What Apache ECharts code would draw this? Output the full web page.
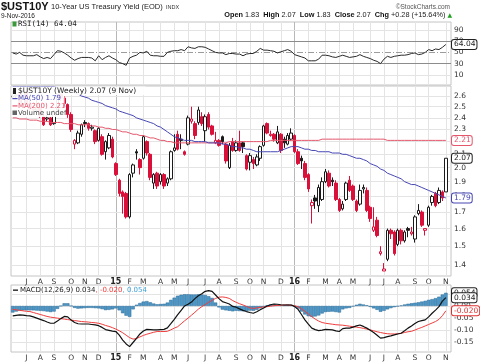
<!DOCTYPE html>
<html>
<head>
<meta charset="utf-8">
<script src="https://cdn.jsdelivr.net/npm/echarts@6.0.0/dist/echarts.min.js"></script>
<style>html,body{margin:0;padding:0;background:#fff;}#chart{width:480px;height:363px;}</style>
</head>
<body>
<div id="chart"></div>
<script>
// ---------- DATA (weekly bars, first bar = week of 2014-06-09) ----------
const firstWeek = '2014-06-09';
const opens = [2.59,2.60,2.62,2.52,2.64,2.53,2.48,2.47,2.49,2.41, 2.39,2.40,2.35,2.47,2.62,2.58,2.52,2.43,2.18,2.19, 2.26,2.36,2.35,2.31,2.29,2.21,2.24,2.12,2.15,2.22, 2.03,1.91,1.83,1.82,1.67,1.96,2.12,2.06,2.07,2.20, 2.10,1.89,1.96,1.90,1.95,1.89,1.92,2.13,2.26,2.22, 2.12,2.18,2.37,2.35,2.36,2.41,2.29,2.43,2.33,2.19, 2.21,2.24,2.18,2.00,2.20,2.13,2.19,2.19,2.09,2.04, 2.06,2.02,2.07,2.17,2.35,2.25,2.26,2.19,2.26,2.22, 2.18,2.22,2.25,2.12,2.07,2.03,1.95,1.74,1.79,1.74, 1.78,1.90,1.96,1.91,1.89,1.78,1.72,1.78,1.91,1.87, 1.77,1.75,1.85,1.84,1.73,1.59,1.65,1.46,1.37,1.43, 1.59,1.58,1.51,1.59,1.53,1.60,1.57,1.54,1.69,1.70, 1.59,1.62,1.76,1.82,1.76,1.83,1.83];
const highs = [2.65,2.66,2.63,2.66,2.65,2.56,2.52,2.58,2.50,2.43, 2.43,2.41,2.47,2.62,2.63,2.60,2.53,2.45,2.22,2.29, 2.35,2.38,2.36,2.34,2.30,2.32,2.26,2.21,2.27,2.24, 2.04,1.92,1.84,1.83,1.96,2.03,2.14,2.07,2.25,2.21, 2.11,1.96,1.97,1.96,1.96,1.93,2.13,2.26,2.29,2.26, 2.13,2.42,2.50,2.37,2.50,2.45,2.43,2.45,2.34,2.28, 2.22,2.25,2.19,2.19,2.23,2.21,2.29,2.20,2.10,2.11, 2.08,2.10,2.17,2.34,2.36,2.29,2.27,2.33,2.27,2.24, 2.27,2.31,2.26,2.14,2.09,2.05,1.96,1.78,1.81,1.88, 1.93,1.99,1.98,1.93,1.91,1.79,1.77,1.90,1.94,1.88, 1.78,1.88,1.88,1.86,1.74,1.73,1.67,1.50,1.41,1.60, 1.60,1.59,1.60,1.60,1.59,1.61,1.61,1.68,1.75,1.71, 1.60,1.74,1.81,1.83,1.86,1.84,2.07];
const lows = [2.57,2.57,2.51,2.50,2.51,2.44,2.46,2.46,2.40,2.33, 2.37,2.33,2.34,2.46,2.55,2.50,2.40,2.28,2.14,2.18, 2.24,2.32,2.29,2.29,2.18,2.20,2.09,2.06,2.14,2.07, 1.94,1.80,1.69,1.66,1.66,1.93,2.06,1.95,2.06,2.09, 1.91,1.85,1.85,1.88,1.85,1.87,1.91,2.12,2.13,2.14, 2.09,2.17,2.35,2.22,2.34,2.33,2.20,2.30,2.25,2.18, 2.16,2.18,2.03,1.99,2.12,2.12,2.12,2.11,1.98,1.98, 1.99,2.01,2.05,2.16,2.26,2.24,2.20,2.18,2.11,2.15, 2.17,2.21,2.11,2.02,1.99,1.91,1.83,1.63,1.72,1.70, 1.77,1.89,1.86,1.87,1.77,1.70,1.71,1.77,1.83,1.77, 1.70,1.74,1.82,1.70,1.64,1.58,1.55,1.45,1.37,1.42, 1.54,1.45,1.50,1.51,1.52,1.55,1.56,1.52,1.68,1.61, 1.56,1.61,1.74,1.73,1.75,1.77,1.83];
const closes = [2.60,2.61,2.53,2.64,2.52,2.48,2.47,2.49,2.42,2.34, 2.40,2.34,2.46,2.61,2.58,2.53,2.43,2.30,2.21,2.27, 2.34,2.35,2.31,2.32,2.20,2.31,2.10,2.20,2.25,2.08, 1.95,1.82,1.80,1.67,1.95,2.02,2.11,2.00,2.24,2.11, 1.93,1.95,1.87,1.95,1.87,1.92,2.12,2.15,2.14,2.21, 2.10,2.40,2.39,2.25,2.47,2.35,2.41,2.32,2.26,2.21, 2.17,2.20,2.05,2.17,2.13,2.19,2.13,2.16,1.99,2.09, 2.03,2.08,2.16,2.33,2.27,2.26,2.22,2.28,2.13,2.19, 2.25,2.27,2.12,2.03,2.05,1.93,1.85,1.76,1.77,1.86, 1.90,1.97,1.87,1.90,1.78,1.71,1.75,1.89,1.84,1.78, 1.71,1.84,1.86,1.71,1.66,1.61,1.56,1.47,1.38,1.59, 1.57,1.46,1.59,1.53,1.58,1.59,1.58,1.67,1.71,1.62, 1.60,1.73,1.80,1.74,1.84,1.79,2.07];
const ma50 = [2.69,2.69,2.69,2.69,2.69,2.69,2.69,2.69,2.69,2.69, 2.69,2.69,2.69,2.68,2.67,2.66,2.65,2.64,2.63,2.62, 2.60,2.59,2.58,2.56,2.55,2.54,2.53,2.51,2.50,2.49, 2.48,2.46,2.45,2.44,2.43,2.42,2.40,2.39,2.38,2.37, 2.36,2.35,2.33,2.32,2.30,2.28,2.26,2.24,2.23,2.22, 2.21,2.21,2.21,2.20,2.20,2.20,2.20,2.19,2.19,2.19, 2.19,2.18,2.18,2.17,2.16,2.16,2.15,2.15,2.14,2.14, 2.13,2.12,2.12,2.12,2.12,2.12,2.12,2.12,2.13,2.14, 2.15,2.16,2.16,2.16,2.15,2.14,2.14,2.13,2.13,2.12, 2.12,2.12,2.12,2.11,2.11,2.11,2.10,2.10,2.09,2.08, 2.07,2.07,2.06,2.05,2.03,2.02,2.01,1.99,1.98,1.96, 1.95,1.94,1.93,1.92,1.90,1.89,1.88,1.88,1.87,1.86, 1.85,1.84,1.83,1.82,1.81,1.80,1.79];
const ma200 = [2.40,2.40,2.39,2.39,2.39,2.38,2.38,2.38,2.37,2.37, 2.37,2.36,2.36,2.36,2.36,2.35,2.35,2.35,2.35,2.34, 2.34,2.34,2.34,2.33,2.33,2.32,2.32,2.31,2.31,2.30, 2.30,2.29,2.28,2.28,2.27,2.26,2.26,2.25,2.25,2.24, 2.23,2.23,2.22,2.21,2.21,2.20,2.20,2.19,2.19,2.19, 2.19,2.19,2.19,2.19,2.19,2.19,2.19,2.19,2.19,2.19, 2.19,2.19,2.19,2.20,2.20,2.20,2.20,2.20,2.20,2.20, 2.20,2.20,2.20,2.20,2.20,2.21,2.21,2.21,2.21,2.21, 2.21,2.21,2.21,2.21,2.21,2.21,2.21,2.21,2.21,2.21, 2.22,2.22,2.22,2.22,2.22,2.22,2.22,2.22,2.22,2.22, 2.22,2.22,2.22,2.22,2.22,2.22,2.22,2.22,2.22,2.21, 2.21,2.21,2.21,2.21,2.21,2.21,2.21,2.21,2.21,2.21, 2.21,2.21,2.21,2.21,2.21,2.21,2.21];
const rsi = [49,47,50,45,44,44,44,46,42,39, 41,39,46,53,52,49,45,40,36,39, 41,41,41,40,35,44,37,41,44,40, 37,32,30,27,40,43,45,50,49,52, 45,44,44,43,43,50,52,53,53,55, 53,60,58,57,60,60,59,56,53,50, 49,49,46,48,48,47,47,44,47, 48,48,52,57,54,54,53,52,49,51, 53,55,52,46,44,42,40,35,35,35, 38,45,45,44,42,41,43,45,43,41, 42,43,46,43,41,39,36,34,30,38, 43,41,43,44,45,45,46,48,49,46, 47,50,55,53,56,55,59,64.04];
const macd = [-0.041,-0.039,-0.037,-0.038,-0.040,-0.041,-0.045,-0.050,-0.055,-0.060, -0.066,-0.071,-0.071,-0.062,-0.052,-0.043,-0.045,-0.058,-0.068,-0.073, -0.074,-0.074,-0.074,-0.076,-0.078,-0.081,-0.088,-0.097,-0.100,-0.103, -0.105,-0.120,-0.140,-0.156,-0.167,-0.150,-0.133,-0.115,-0.103,-0.096, -0.097,-0.098,-0.098,-0.097,-0.096,-0.090,-0.073,-0.055,-0.036,-0.018, 0.000,0.007,0.016,0.030,0.042,0.050,0.060,0.063,0.060,0.045, 0.030,0.018,0.013,0.008,-0.002,-0.005,-0.012,-0.018,-0.023, -0.027,-0.030,-0.024,-0.016,-0.008,0.000,0.005,0.008,0.007,0.005, 0.004,0.004,0.004,-0.002,-0.014,-0.035,-0.057,-0.075,-0.091,-0.097, -0.101,-0.099,-0.096,-0.097,-0.098,-0.102,-0.105,-0.093,-0.091,-0.091, -0.087,-0.082,-0.078,-0.084,-0.091,-0.100,-0.109,-0.120,-0.132,-0.130, -0.126,-0.123,-0.119,-0.115,-0.112,-0.102,-0.091,-0.082,-0.072,-0.064, -0.060,-0.057,-0.045,-0.030,-0.017,-0.003,0.020,0.034];
const signal = [-0.014,-0.016,-0.018,-0.020,-0.022,-0.023,-0.027,-0.031,-0.035,-0.039, -0.043,-0.046,-0.048,-0.050,-0.052,-0.054,-0.056,-0.058,-0.060,-0.062, -0.064,-0.065,-0.066,-0.068,-0.069,-0.071,-0.075,-0.080,-0.084,-0.089, -0.095,-0.102,-0.110,-0.120,-0.130,-0.136,-0.134,-0.127,-0.121,-0.116, -0.112,-0.108,-0.105,-0.105,-0.105,-0.104,-0.098,-0.091,-0.085,-0.073, -0.061,-0.050,-0.038,-0.026,-0.013,-0.003,0.006,0.015,0.023,0.031, 0.036,0.037,0.035,0.031,0.022,0.015,0.009,0.004,-0.002, -0.008,-0.010,-0.008,-0.006,-0.004,-0.003,-0.001,0.001,0.002,0.003, 0.004,0.004,0.003,0.001,-0.003,-0.012,-0.022,-0.033,-0.044,-0.054, -0.062,-0.068,-0.071,-0.073,-0.075,-0.077,-0.078,-0.079,-0.081,-0.083, -0.085,-0.087,-0.089,-0.092,-0.095,-0.098,-0.102,-0.106,-0.109,-0.112, -0.114,-0.115,-0.115,-0.114,-0.112,-0.109,-0.106,-0.104,-0.099,-0.093, -0.088,-0.082,-0.076,-0.070,-0.064,-0.055,-0.040,-0.020];
const hist = [-0.027,-0.023,-0.019,-0.018,-0.018,-0.018,-0.018,-0.019,-0.020,-0.021, -0.023,-0.025,-0.023,-0.012,0.000,0.011,0.011,0.000,-0.008,-0.011, -0.010,-0.009,-0.008,-0.008,-0.009,-0.010,-0.013,-0.017,-0.016,-0.014, -0.010,-0.018,-0.030,-0.040,-0.045,-0.014,0.005,0.012,0.018,0.020, 0.015,0.010,0.007,0.008,0.009,0.014,0.025,0.034,0.042,0.046, 0.048,0.048,0.047,0.047,0.048,0.047,0.045,0.040,0.033,0.014, -0.006,-0.015,-0.018,-0.020,-0.022,-0.020,-0.021,-0.022,-0.021, -0.019,-0.020,-0.016,-0.010,-0.004,0.003,0.006,0.007,0.005,0.003, 0.004,0.006,0.005,-0.003,-0.011,-0.023,-0.035,-0.042,-0.045,-0.043, -0.039,-0.031,-0.025,-0.024,-0.023,-0.025,-0.027,-0.014,-0.010,-0.008, -0.002,0.005,0.009,0.006,0.003,-0.004,-0.010,-0.016,-0.024,-0.020, -0.014,-0.009,-0.005,-0.002,0.002,0.006,0.009,0.011,0.013,0.015, 0.018,0.021,0.025,0.028,0.032,0.038,0.047,0.054];
const priceTicks = [2.6,2.5,2.4,2.3,2.2,2.1,2.0,1.9,1.8,1.7,1.6,1.5,1.4];
const rsiTicks = [90,70,50,30,10];
const macdTicks = [0.05,0.00,-0.05,-0.10,-0.15];
const monthLetters = ['J','F','M','A','M','J','J','A','S','O','N','D'];

// ---------- BUILD ----------
const RED = '#d8103a', BLUE = '#4646b4', PINK = '#e4566c', GRIDC = '#e4e4e4', JANC = '#b8b8b8';
const LN = Math.log;
const N = closes.length;
const cats = [], monthIdx = [];
const t0 = Date.parse(firstWeek + 'T00:00:00Z');
for (let i = 0; i < N + 1; i++) {
  const d = new Date(t0 + i * 7 * 864e5);
  cats.push(d.toISOString().slice(0, 10));
  if (d.getUTCDate() <= 7) monthIdx.push(i);
}
const monthSet = new Set(monthIdx);
const isJan = i => new Date(cats[i] + 'T00:00:00Z').getUTCMonth() === 0;
function monthLabel(v) {
  const d = new Date(v + 'T00:00:00Z');
  const m = d.getUTCMonth();
  return m === 0 ? '{y|' + String(d.getUTCFullYear()).slice(2) + '}' : monthLetters[m];
}
const candles = closes.map((c, i) => {
  const o = opens[i], prev = i > 0 ? closes[i - 1] : o;
  const col = c >= prev ? '#1a1a1a' : RED;
  const fill = c > o ? '#ffffff' : col;
  return { value: [LN(o), LN(c), LN(lows[i]), LN(highs[i])],
           itemStyle: { color: fill, color0: fill, borderColor: col, borderColor0: col } };
});

const FONT = 'DejaVu Sans';
function vLines() {
  return monthIdx.map(i => ({ xAxis: cats[i], lineStyle: { color: isJan(i) ? JANC : GRIDC, width: 1, type: 'solid' }, label: { show: false } }));
}
function hLine(v, name, style) {
  return { yAxis: v, name: name,
    lineStyle: Object.assign({ color: GRIDC, width: 1, type: 'solid' }, style || {}),
    label: { show: true, position: 'end', distance: 3, formatter: '{b}', color: '#333', fontSize: 7.5, fontFamily: FONT } };
}
function tag(v, name, color) {
  return { yAxis: v, name: name, lineStyle: { color: 'rgba(0,0,0,0)', width: 1, type: 'solid' },
    label: { show: true, position: 'end', distance: 1, formatter: '{b}', color: color, fontSize: 7.5, fontFamily: FONT,
      backgroundColor: '#fff', borderColor: color, borderWidth: 1, borderRadius: 2, padding: [1, 1, 0, 2] } };
}
function ml(data, z) {
  return { silent: true, symbol: ['none', 'none'], animation: false, z: z, precision: 6,
    lineStyle: { type: 'solid' }, data: data };
}
const L = N - 1;

const xBase = { type: 'category', data: cats, boundaryGap: true, axisLine: { show: false }, axisTick: { show: false }, splitLine: { show: false } };
const xLabel = { show: true, interval: i => monthSet.has(i), formatter: monthLabel, fontSize: 7.5, fontFamily: FONT, color: '#333', margin: 2,
  rich: { y: { fontWeight: 'bold', fontSize: 8, fontFamily: FONT, color: '#222' } } };
const yBase = { type: 'value', position: 'right', axisLabel: { show: false }, axisLine: { show: false }, axisTick: { show: false }, splitLine: { show: false } };

const chg = closes[L] - closes[L - 1];
const pct = chg / closes[L - 1] * 100;
const sgn = chg >= 0 ? '+' : '';
const hdr = '{b|Open} ' + opens[L].toFixed(2) + '  {b|High} ' + highs[L].toFixed(2) + '  {b|Low} ' + lows[L].toFixed(2) +
  '  {b|Close} ' + closes[L].toFixed(2) + '  {b|Chg} ' + sgn + chg.toFixed(2) + ' (' + sgn + pct.toFixed(2) + '%) {g|▲}';

const option = {
  animation: false,
  backgroundColor: '#fff',
  grid: [
    { left: 11, right: 29, top: 22, height: 63, show: true, borderColor: '#c4c4c4', borderWidth: 1 },
    { left: 11, right: 29, top: 86, height: 190, show: true, borderColor: '#c4c4c4', borderWidth: 1 },
    { left: 11, right: 29, top: 285, height: 67, show: true, borderColor: '#c4c4c4', borderWidth: 1 }
  ],
  xAxis: [
    Object.assign({}, xBase, { gridIndex: 0, axisLabel: { show: false } }),
    Object.assign({}, xBase, { gridIndex: 1, axisLabel: xLabel }),
    Object.assign({}, xBase, { gridIndex: 2, axisLabel: xLabel })
  ],
  yAxis: [
    Object.assign({}, yBase, { gridIndex: 0, min: -8, max: 104 }),
    Object.assign({}, yBase, { gridIndex: 1, min: LN(1.345), max: LN(2.697) }),
    Object.assign({}, yBase, { gridIndex: 2, min: -0.189, max: 0.086 })
  ],
  series: [
    { type: 'line', name: 'RSI', xAxisIndex: 0, yAxisIndex: 0, data: rsi, symbol: 'none', z: 3,
      lineStyle: { color: '#2a2a2a', width: 1 },
      markLine: ml(vLines().concat(rsiTicks.map(t => hLine(t, String(t),
        (t === 70 || t === 30) ? { color: '#8c8c8c' } : (t === 50 ? { color: '#9c9c9c', type: [6, 2, 1, 2] } : null))),
        [tag(rsi[L], rsi[L].toFixed(2), '#222')]), 1) },
    { type: 'candlestick', name: 'price', xAxisIndex: 1, yAxisIndex: 1, data: candles, barWidth: 3, z: 2,
      itemStyle: { borderWidth: 1 },
      markLine: ml(vLines().concat(priceTicks.map(t => hLine(LN(t), t.toFixed(1)))), 1) },
    { type: 'line', name: 'MA200', xAxisIndex: 1, yAxisIndex: 1, data: ma200.map(v => LN(v)), symbol: 'none', z: 3,
      lineStyle: { color: PINK, width: 1 },
      markLine: ml([tag(LN(ma200[L]), ma200[L].toFixed(2), PINK)], 10) },
    { type: 'line', name: 'MA50', xAxisIndex: 1, yAxisIndex: 1, data: ma50.map(v => LN(v)), symbol: 'none', z: 3,
      lineStyle: { color: BLUE, width: 1 },
      markLine: ml([tag(LN(ma50[L]), ma50[L].toFixed(2), BLUE), tag(LN(closes[L]), closes[L].toFixed(2), '#222')], 10) },
    { type: 'bar', name: 'hist', xAxisIndex: 2, yAxisIndex: 2, data: hist, barCategoryGap: '0%', z: 2,
      itemStyle: { color: '#4b97c8', borderColor: '#2c6b96', borderWidth: 0.5 },
      markLine: ml(vLines().concat(macdTicks.map(t => hLine(t, t.toFixed(2)))), 1) },
    { type: 'line', name: 'signal', xAxisIndex: 2, yAxisIndex: 2, data: signal, symbol: 'none', z: 3,
      lineStyle: { color: '#f03c3c', width: 1 },
      markLine: ml([tag(signal[L], signal[L].toFixed(3), '#e03030')], 10) },
    { type: 'line', name: 'MACD', xAxisIndex: 2, yAxisIndex: 2, data: macd, symbol: 'none', z: 4,
      lineStyle: { color: '#111', width: 1.2 },
      markLine: ml([tag(hist[L], hist[L].toFixed(3), '#222'), tag(macd[L], macd[L].toFixed(3), '#222')], 10) }
  ],
  graphic: [
    { type: 'text', x: 1, y: 1, z: 100, style: { text: '$UST10Y', font: 'bold 11px "Liberation Sans"', fill: '#111', verticalAlign: 'top' } },
    { type: 'text', x: 51, y: 3, z: 100, style: { text: '10-Year US Treasury Yield (EOD)', font: '7.5px "Liberation Sans"', fill: '#222', verticalAlign: 'top' } },
    { type: 'text', x: 166, y: 4.5, z: 100, style: { text: 'INDX', font: '5.5px "Liberation Sans"', fill: '#333', verticalAlign: 'top' } },
    { type: 'text', x: 450, y: 3.5, z: 100, style: { text: '©StockCharts.com', font: '6.5px "Liberation Sans"', fill: '#555', align: 'right', verticalAlign: 'top' } },
    { type: 'text', x: 1, y: 12.5, z: 100, style: { text: '9-Nov-2016', font: '6.5px "Liberation Sans"', fill: '#222', verticalAlign: 'top' } },
    { type: 'text', x: 452, y: 11.5, z: 100, style: { text: hdr, font: '7.3px "Liberation Sans"', fill: '#222', align: 'right', verticalAlign: 'top',
        rich: { b: { fontWeight: 'bold', fontSize: 7.3, fontFamily: 'Liberation Sans', fill: '#111' }, g: { fontSize: 6, fontFamily: 'DejaVu Sans', fill: '#22a022' } } } },
    // RSI label
    { type: 'rect', z: 100, shape: { x: 12.5, y: 21.5, width: 4, height: 5 }, style: { fill: '#3a9a3a' } },
    { type: 'text', x: 18, y: 24.5, z: 100, style: { text: 'RSI(14) ' + rsi[L].toFixed(2), font: '7.5px "DejaVu Sans Mono"', fill: '#222', verticalAlign: 'middle' } },
    // price legend
    { type: 'rect', z: 90, shape: { x: 11.5, y: 86.5, width: 134, height: 8.5 }, style: { fill: 'rgba(255,255,255,0.92)' } },
    { type: 'rect', z: 90, shape: { x: 11.5, y: 95, width: 53, height: 22 }, style: { fill: 'rgba(255,255,255,0.92)' } },
    { type: 'rect', z: 100, shape: { x: 13, y: 88, width: 3, height: 6 }, style: { fill: '#222' } },
    { type: 'text', x: 18, y: 91, z: 100, style: { text: '$UST10Y (Weekly) ' + closes[L].toFixed(2) + ' (9 Nov)', font: '7.5px "DejaVu Sans"', fill: '#222', verticalAlign: 'middle' } },
    { type: 'rect', z: 100, shape: { x: 12.5, y: 98, width: 5, height: 1.2 }, style: { fill: BLUE } },
    { type: 'text', x: 18, y: 98.5, z: 100, style: { text: 'MA(50) ' + ma50[L].toFixed(2), font: '7px "DejaVu Sans"', fill: BLUE, verticalAlign: 'middle' } },
    { type: 'rect', z: 100, shape: { x: 12.5, y: 105.3, width: 5, height: 1.2 }, style: { fill: PINK } },
    { type: 'text', x: 18, y: 105.8, z: 100, style: { text: 'MA(200) ' + ma200[L].toFixed(2), font: '7px "DejaVu Sans"', fill: PINK, verticalAlign: 'middle' } },
    { type: 'rect', z: 100, shape: { x: 12.5, y: 110.5, width: 4.5, height: 4.5 }, style: { fill: '#666' } },
    { type: 'text', x: 18, y: 113, z: 100, style: { text: 'Volume undef', font: '7px "DejaVu Sans"', fill: '#444', verticalAlign: 'middle' } },
    // MACD label
    { type: 'rect', z: 100, shape: { x: 13, y: 289.5, width: 5, height: 1.3 }, style: { fill: '#111' } },
    { type: 'text', x: 20, y: 290, z: 100, style: {
        text: '{k|MACD(12,26,9) ' + macd[L].toFixed(3) + '}{r|, ' + signal[L].toFixed(3) + '}{c|, ' + hist[L].toFixed(3) + '}',
        font: '7px "DejaVu Sans"', fill: '#222', verticalAlign: 'middle',
        rich: { k: { fontSize: 7, fontFamily: FONT, fill: '#222' }, r: { fontSize: 7, fontFamily: FONT, fill: '#f03c3c' }, c: { fontSize: 7, fontFamily: FONT, fill: '#3fa2d8' } } } }
  ]
};
const chart = echarts.init(document.getElementById('chart'));
chart.setOption(option);
</script>
</body>
</html>
